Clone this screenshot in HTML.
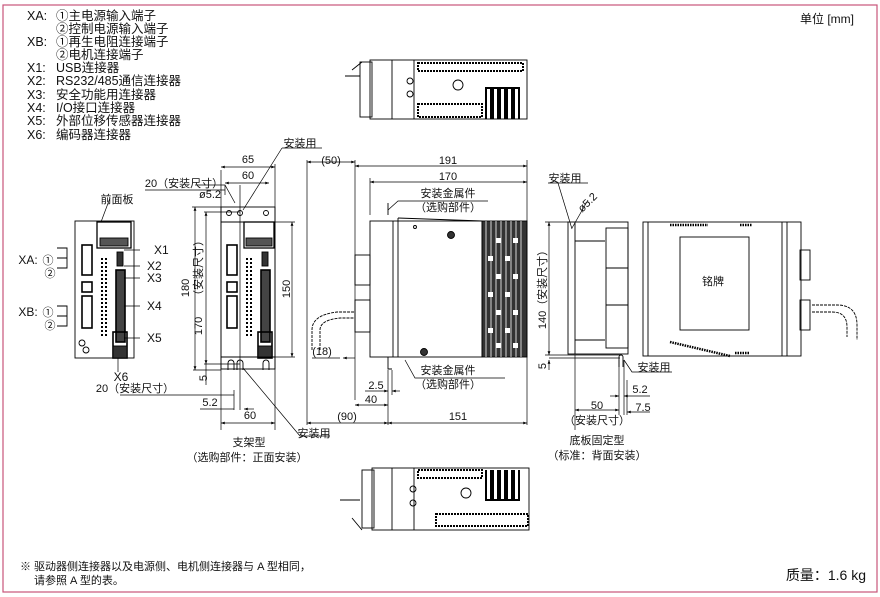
<!DOCTYPE html>
<html><head><meta charset="utf-8"><style>
html,body{margin:0;padding:0;background:#fff;}
svg{display:block;font-family:"Liberation Sans","Noto Sans CJK SC",sans-serif;}
</style></head><body>
<svg width="880" height="597" viewBox="0 0 880 597" xmlns="http://www.w3.org/2000/svg">
<defs>
<marker id="a" viewBox="0 0 8 6" refX="8" refY="3" markerWidth="6" markerHeight="4" orient="auto-start-reverse"><path d="M0,0L8,3L0,6z" fill="#000"/></marker>
</defs>
<rect x="3" y="5" width="874" height="587" fill="none" stroke="#c8557a" stroke-width="1.2"/>
<g font-size="12.5" fill="#111">
<text x="27" y="20">XA:</text><text x="56" y="20">①主电源输入端子</text>
<text x="56" y="33">②控制电源输入端子</text>
<text x="27" y="46">XB:</text><text x="56" y="46">①再生电阻连接端子</text>
<text x="56" y="59">②电机连接端子</text>
<text x="27" y="72">X1:</text><text x="56" y="72">USB连接器</text>
<text x="27" y="85">X2:</text><text x="56" y="85">RS232/485通信连接器</text>
<text x="27" y="99">X3:</text><text x="56" y="99">安全功能用连接器</text>
<text x="27" y="112">X4:</text><text x="56" y="112">I/O接口连接器</text>
<text x="27" y="125">X5:</text><text x="56" y="125">外部位移传感器连接器</text>
<text x="27" y="139">X6:</text><text x="56" y="139">编码器连接器</text>
<text x="800" y="23" font-size="12">单位 [mm]</text>
</g>
<g fill="none" stroke="#000" stroke-width="0.9">
<!-- top view -->
<rect x="370" y="60" width="157" height="59"/>
<rect x="360" y="62" width="12" height="55"/>
<line x1="392" y1="60" x2="392" y2="119"/><line x1="414" y1="60" x2="414" y2="119"/>
<rect x="418" y="63" width="105" height="8" stroke-width="2" stroke-dasharray="2 1"/>
<rect x="418" y="104" width="64" height="13" stroke-width="2" stroke-dasharray="2 1"/>
<path d="M486,119 V88 h5 V119 M493,119 V88 h5 V119 M500,119 V88 h5 V119 M507,119 V88 h5 V119 M514,119 V88 h5 V119" stroke-width="2"/>
<circle cx="410" cy="81" r="3"/><circle cx="410" cy="94" r="3"/><circle cx="458" cy="85" r="5"/>
<path d="M345,76 h15 M352,70 l10,-8" />
<!-- bottom view -->
<rect x="372" y="468" width="157" height="62"/>
<rect x="362" y="470" width="12" height="58"/>
<line x1="392" y1="468" x2="392" y2="530"/><line x1="414" y1="468" x2="414" y2="530"/>
<rect x="436" y="514" width="92" height="12" stroke-width="2" stroke-dasharray="2 1"/>
<rect x="418" y="470" width="64" height="8" stroke-width="2" stroke-dasharray="2 1"/>
<path d="M486,470 V500 h5 V470 M493,470 V500 h5 V470 M500,470 V500 h5 V470 M507,470 V500 h5 V470 M514,470 V500 h5 V470" stroke-width="2"/>
<circle cx="413" cy="489" r="3"/><circle cx="413" cy="503" r="3"/><circle cx="466" cy="493" r="5"/>
<path d="M340,500 h20 M352,518 l10,12"/>
<!-- front view 1 -->
<rect x="75" y="221" width="59" height="137"/>
<rect x="97" y="222" width="34" height="26" stroke-width="1.3"/>
<rect x="100" y="238" width="28" height="8" fill="#555"/>
<rect x="82" y="245" width="10" height="30" stroke-width="1.6"/>
<rect x="82" y="282" width="10" height="10" stroke-width="1.6"/>
<rect x="82" y="296" width="10" height="32" stroke-width="1.6"/>
<rect x="116" y="270" width="9" height="72" stroke-width="1.6" fill="#444"/>
<rect x="117" y="252" width="6" height="14" fill="#333"/>
<rect x="113" y="332" width="14" height="26" stroke-width="1.6"/>
<rect x="113" y="346" width="14" height="12" fill="#333"/>
<path d="M102,258 v80 M106,258 v80" stroke-dasharray="2 2" stroke-width="2"/>
<circle cx="82" cy="343" r="3"/><circle cx="86" cy="350" r="3"/>
<path d="M57,248 h10 v20 h-10 M57,258 h10 M57,306 h10 v20 h-10 M57,316 h10"/>
<!-- front view 2 with bracket -->
<rect x="221" y="207" width="54" height="15"/>
<rect x="221" y="222" width="54" height="135"/>
<rect x="221" y="357" width="54" height="12"/>
<rect x="244" y="222" width="30" height="26" stroke-width="1.3"/>
<rect x="246" y="238" width="26" height="8" fill="#555"/>
<rect x="227" y="245" width="10" height="30" stroke-width="1.6"/>
<rect x="227" y="282" width="10" height="10" stroke-width="1.6"/>
<rect x="227" y="296" width="10" height="32" stroke-width="1.6"/>
<rect x="261" y="270" width="9" height="72" stroke-width="1.6" fill="#444"/>
<rect x="262" y="252" width="6" height="14" fill="#333"/>
<rect x="258" y="332" width="14" height="26" stroke-width="1.6"/>
<rect x="258" y="346" width="14" height="11" fill="#333"/>
<path d="M247,258 v80 M251,258 v80" stroke-dasharray="2 2" stroke-width="2"/>
<circle cx="229" cy="213" r="2.5"/><circle cx="240" cy="213" r="2.5"/><circle cx="266" cy="213" r="2.5"/>
<path d="M228,370 v-7 a3,3 0 0 1 6,0 v7 M237,370 v-7 a3,3 0 0 1 6,0 v7 M263,370 v-7 a3,3 0 0 1 6,0 v7"/>
<!-- side view -->
<rect x="370" y="221" width="112" height="136"/>
<rect x="482" y="221" width="45" height="136" fill="#333"/>
<path d="M486,221 v136 M491,221 v136 M496,221 v136 M501,221 v136 M506,221 v136 M511,221 v136 M516,221 v136 M521,221 v136" stroke="#fff" stroke-width="0.8"/>
<g fill="#fff" stroke="none">
<rect x="496" y="238" width="5" height="5"/><rect x="513" y="238" width="5" height="5"/>
<rect x="488" y="256" width="5" height="5"/><rect x="505" y="256" width="5" height="5"/>
<rect x="496" y="274" width="5" height="5"/><rect x="513" y="274" width="5" height="5"/>
<rect x="488" y="292" width="5" height="5"/><rect x="505" y="292" width="5" height="5"/>
<rect x="496" y="310" width="5" height="5"/><rect x="513" y="310" width="5" height="5"/>
<rect x="488" y="328" width="5" height="5"/><rect x="505" y="328" width="5" height="5"/>
<rect x="496" y="343" width="5" height="5"/><rect x="513" y="343" width="5" height="5"/>
</g>
<line x1="393" y1="221" x2="393" y2="357"/><line x1="398" y1="218" x2="398" y2="357"/>
<path d="M398,218 L482,221"/>
<circle cx="415" cy="227" r="1.5"/><circle cx="451" cy="235" r="3.5" fill="#333"/><circle cx="424" cy="352" r="3.5" fill="#333"/>
<rect x="355" y="255" width="15" height="30"/><rect x="355" y="300" width="15" height="32"/>
<path d="M312,350 v-20 q0,-15 25,-18 h18 M320,350 v-20 q0,-10 20,-12 h15" stroke-dasharray="3 1"/>
<path d="M388,215 v-12 M388,357 v12 h4 M388,369 v-12"/>
<!-- rear mount bracket -->
<rect x="568" y="222" width="60" height="132"/>
<line x1="575" y1="222" x2="575" y2="354"/>
<rect x="606" y="228" width="22" height="120"/>
<path d="M575,241 h30 M575,340 h30 M606,268 h22 M606,305 h22"/>
<path d="M619,367 v-10 a2,2 0 0 1 4,0 v10"/>
<!-- rear view body -->
<rect x="643" y="222" width="158" height="134"/>
<line x1="648" y1="222" x2="648" y2="356"/>
<line x1="782" y1="222" x2="782" y2="356"/><line x1="787" y1="222" x2="787" y2="356"/>
<rect x="680" y="237" width="69" height="93"/>
<path d="M670,225 h38 M740,225 h12 M670,342 l60,14 M735,353 h15" stroke-width="2.5" stroke-dasharray="1.5 1"/>
<rect x="800" y="250" width="10" height="30"/><rect x="800" y="300" width="10" height="30"/>
<path d="M812,305 h25 q20,0 20,20 v15 M812,312 h20 q15,0 15,15 v10" stroke-dasharray="3 1"/>
</g>
<!-- dimension lines -->
<g stroke="#000" stroke-width="0.7" fill="none">
<line x1="221" y1="170" x2="221" y2="430"/><line x1="275" y1="164" x2="275" y2="430"/>
<line x1="221" y1="167" x2="275" y2="167" marker-start="url(#a)" marker-end="url(#a)"/>
<line x1="225" y1="183" x2="269" y2="183" marker-start="url(#a)" marker-end="url(#a)"/>
<line x1="145" y1="190" x2="225" y2="190"/><line x1="240" y1="185" x2="240" y2="410"/><line x1="225" y1="185" x2="225" y2="195"/>
<line x1="192" y1="207" x2="221" y2="207"/><line x1="193" y1="370" x2="221" y2="370"/>
<line x1="195" y1="207" x2="195" y2="370" marker-start="url(#a)" marker-end="url(#a)"/>
<line x1="206" y1="212" x2="206" y2="364" marker-start="url(#a)" marker-end="url(#a)"/>
<line x1="204" y1="212" x2="240" y2="212"/><line x1="204" y1="364" x2="240" y2="364"/>
<line x1="275" y1="222" x2="295" y2="222"/><line x1="275" y1="357" x2="295" y2="357"/>
<line x1="292" y1="222" x2="292" y2="357" marker-start="url(#a)" marker-end="url(#a)"/>
<line x1="120" y1="395" x2="234" y2="395"/><line x1="234" y1="390" x2="234" y2="410"/>
<line x1="206" y1="364" x2="206" y2="385"/>
<line x1="200" y1="409" x2="234" y2="409"/><line x1="244" y1="409" x2="254" y2="409" marker-start="url(#a)"/>
<line x1="221" y1="423" x2="275" y2="423" marker-start="url(#a)" marker-end="url(#a)"/>
<path d="M195,185 h30 l10,18"/>
<path d="M282,148 h40 M282,148 L243,210"/>
<path d="M243,368 L300,436 h30"/>
<path d="M110,198 L101,222"/>
<path d="M124,250 H140 M124,266 H140 M124,278 H140 M124,306 H140 M124,338 H140 M118,358 V372"/>
<line x1="307" y1="160" x2="307" y2="425"/><line x1="355" y1="160" x2="355" y2="400"/>
<line x1="307" y1="162" x2="355" y2="162" marker-start="url(#a)" marker-end="url(#a)"/>
<line x1="355" y1="166" x2="527" y2="166" marker-start="url(#a)" marker-end="url(#a)"/>
<line x1="527" y1="160" x2="527" y2="425"/><line x1="370" y1="178" x2="370" y2="215"/>
<line x1="370" y1="182" x2="527" y2="182" marker-start="url(#a)" marker-end="url(#a)"/>
<path d="M388,210 L398,201 h90"/>
<path d="M405,360 L415,378 h90"/>
<line x1="312" y1="358" x2="340" y2="358"/><line x1="343" y1="358" x2="355" y2="358" marker-start="url(#a)"/>
<line x1="388" y1="370" x2="388" y2="425"/><line x1="392" y1="370" x2="392" y2="395"/>
<line x1="365" y1="391" x2="388" y2="391" marker-end="url(#a)"/><line x1="392" y1="391" x2="400" y2="391" marker-start="url(#a)"/>
<line x1="355" y1="405" x2="388" y2="405" marker-start="url(#a)" marker-end="url(#a)"/>
<line x1="307" y1="423" x2="388" y2="423" marker-start="url(#a)" marker-end="url(#a)"/>
<line x1="388" y1="423" x2="527" y2="423" marker-start="url(#a)" marker-end="url(#a)"/>
<line x1="545" y1="222" x2="568" y2="222"/><line x1="545" y1="355" x2="620" y2="355"/>
<line x1="549" y1="222" x2="549" y2="355" marker-start="url(#a)" marker-end="url(#a)"/>
<line x1="549" y1="360" x2="549" y2="370" marker-start="url(#a)"/>
<line x1="549" y1="358" x2="620" y2="358"/>
<path d="M548,183 h40 M558,183 L572,229"/>
<path d="M588,200 L572,228"/>
<line x1="575" y1="355" x2="575" y2="430"/><line x1="619" y1="360" x2="619" y2="415"/><line x1="624" y1="360" x2="624" y2="415"/><line x1="627" y1="380" x2="627" y2="415"/>
<line x1="575" y1="410" x2="619" y2="410" marker-start="url(#a)" marker-end="url(#a)"/>
<line x1="610" y1="396" x2="619" y2="396" marker-end="url(#a)"/><line x1="624" y1="396" x2="650" y2="396" marker-start="url(#a)"/>
<line x1="627" y1="412" x2="650" y2="412" marker-start="url(#a)"/>
<path d="M624,360 L632,372 h40"/>
</g>
<g font-size="11" fill="#111" text-anchor="middle">
<text x="117" y="203">前面板</text>
<text x="154" y="254" text-anchor="start" font-size="12">X1</text>
<text x="147" y="270" text-anchor="start" font-size="12">X2</text>
<text x="147" y="282" text-anchor="start" font-size="12">X3</text>
<text x="147" y="310" text-anchor="start" font-size="12">X4</text>
<text x="147" y="342" text-anchor="start" font-size="12">X5</text>
<text x="121" y="381" font-size="12">X6</text>
<text x="28" y="264" font-size="12">XA:</text><text x="48" y="264">①</text><text x="50" y="277">②</text>
<text x="28" y="316" font-size="12">XB:</text><text x="48" y="316">①</text><text x="50" y="329">②</text>
<text x="248" y="163">65</text><text x="248" y="179">60</text>
<text x="184" y="187">20（安装尺寸）</text>
<text x="210" y="198">ø5.2</text>
<text x="300" y="147">安装用</text>
<text x="135" y="392">20（安装尺寸）</text>
<text x="210" y="406">5.2</text>
<text x="250" y="419">60</text>
<text x="249" y="446">支架型</text>
<text x="247" y="461">（选购部件：正面安装）</text>
<text x="314" y="437">安装用</text>
<text x="331" y="164">(50)</text><text x="448" y="164">191</text><text x="448" y="180">170</text>
<text x="448" y="197">安装金属件</text><text x="448" y="211">（选购部件）</text>
<text x="448" y="374">安装金属件</text><text x="448" y="388">（选购部件）</text>
<text x="322" y="355">(18)</text><text x="376" y="389">2.5</text><text x="371" y="403">40</text>
<text x="347" y="420">(90)</text><text x="458" y="420">151</text>
<text x="565" y="182">安装用</text>
<text x="713" y="285">铭牌</text>
<text x="654" y="371">安装用</text>
<text x="640" y="393">5.2</text><text x="643" y="411">7.5</text><text x="597" y="409">50</text>
<text x="597" y="424">（安装尺寸）</text>
<text x="597" y="444">底板固定型</text>
<text x="597" y="459">（标准：背面安装）</text>
</g>
<g font-size="11" fill="#111" text-anchor="middle">
<text transform="translate(189,288) rotate(-90)">180</text>
<text transform="translate(202,268) rotate(-90)">（安装尺寸）</text>
<text transform="translate(202,326) rotate(-90)">170</text>
<text transform="translate(290,289) rotate(-90)">150</text>
<text transform="translate(207,378) rotate(-90)">5</text>
<text transform="translate(546,287) rotate(-90)">140（安装尺寸）</text>
<text transform="translate(546,366) rotate(-90)">5</text>
<text transform="translate(590,205) rotate(-45)">ø5.2</text>
</g>
<text x="20" y="570" font-size="11" fill="#111">※ 驱动器侧连接器以及电源侧、电机侧连接器与 A 型相同，</text>
<text x="34" y="584" font-size="11" fill="#111">请参照 A 型的表。</text>
<text x="866" y="580" font-size="14" fill="#111" text-anchor="end">质量：1.6 kg</text>
</svg>
</body></html>
